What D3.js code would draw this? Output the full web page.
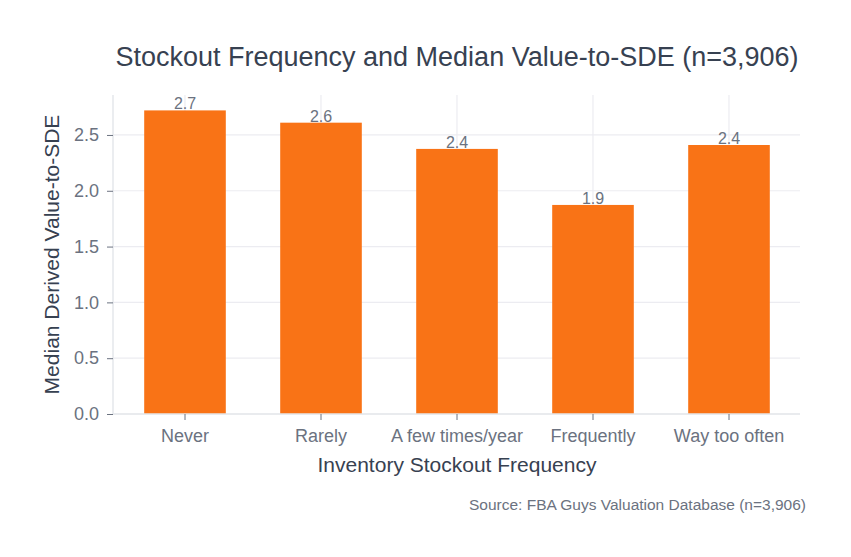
<!DOCTYPE html>
<html>
<head>
<meta charset="utf-8">
<script src="https://cdn.jsdelivr.net/npm/d3@7"></script>
<style>
  body { margin: 0; background: #fff; }
  text { font-family: "Liberation Sans", Arial, sans-serif; }
</style>
</head>
<body>
<div id="chart"></div>
<script>
var categories = ["Never", "Rarely", "A few times/year", "Frequently", "Way too often"];
var values = [2.72, 2.61, 2.375, 1.873, 2.41];
var valueLabels = ["2.7", "2.6", "2.4", "1.9", "2.4"];
var yTicks = [0, 0.5, 1.0, 1.5, 2.0, 2.5];

var width = 851,
  height = 557;

var plotLeft = 113, plotRight = 800, plotTop = 95, plotBottom = 414;

var svg = d3.select("#chart").append("svg")
  .attr("width", width)
  .attr("height", height);

var x = d3.scaleBand()
  .domain(categories)
  .range([117, 797])
  .paddingInner(0.4)
  .paddingOuter(0.2);

var y = d3.scaleLinear()
  .domain([0, 2.858])
  .range([plotBottom, plotTop]);

// grid
svg.append("g")
  .selectAll("line")
  .data(yTicks)
  .enter().append("line")
  .attr("x1", plotLeft).attr("x2", plotRight)
  .attr("y1", d => y(d)).attr("y2", d => y(d))
  .attr("stroke", "#ececf1")
  .attr("stroke-width", 1.2);

svg.append("g")
  .selectAll("line")
  .data(categories)
  .enter().append("line")
  .attr("x1", d => x(d) + x.bandwidth() / 2)
  .attr("x2", d => x(d) + x.bandwidth() / 2)
  .attr("y1", plotTop).attr("y2", plotBottom)
  .attr("stroke", "#ececf1")
  .attr("stroke-width", 1.2);

// bars
svg.append("g")
  .selectAll("rect")
  .data(values)
  .enter().append("rect")
  .attr("x", (d, i) => x(categories[i]))
  .attr("width", x.bandwidth())
  .attr("y", d => y(d))
  .attr("height", d => plotBottom - y(d))
  .attr("fill", "#f97316");

svg.append("g")
  .selectAll("text")
  .data(values)
  .enter().append("text")
  .attr("x", (d, i) => x(categories[i]) + x.bandwidth() / 2)
  .attr("y", d => y(d) - 1)
  .attr("text-anchor", "middle")
  .attr("font-size", 16)
  .attr("fill", "#6b7280")
  .text((d, i) => valueLabels[i]);

// axes
var yAxis = svg.append("g")
  .attr("transform", "translate(" + plotLeft + ",0)")
  .call(d3.axisLeft(y).tickValues(yTicks).tickFormat(d3.format(".1f")).tickSize(6).tickPadding(8));
yAxis.select(".domain").attr("stroke", "#e5e7eb").attr("stroke-width", 1.5).attr("d", "M0," + plotTop + "V" + plotBottom);
yAxis.selectAll(".tick line").attr("stroke", "#6b7280");
yAxis.selectAll(".tick text").attr("font-size", 18).attr("fill", "#6b7280").attr("font-family", null);

var xAxis = svg.append("g")
  .attr("transform", "translate(0," + plotBottom + ")")
  .call(d3.axisBottom(x).tickSize(6).tickPadding(9));
xAxis.select(".domain").attr("stroke", "#e5e7eb").attr("stroke-width", 1.5).attr("d", "M" + plotLeft + ",0H" + plotRight);
xAxis.selectAll(".tick line").attr("stroke", "#6b7280");
xAxis.selectAll(".tick text").attr("font-size", 18).attr("fill", "#6b7280").attr("font-family", null);

// titles
svg.append("text")
  .attr("x", 457).attr("y", 66)
  .attr("text-anchor", "middle")
  .attr("font-size", 27)
  .attr("fill", "#374151")
  .text("Stockout Frequency and Median Value-to-SDE (n=3,906)");

svg.append("text")
  .attr("x", 457).attr("y", 472)
  .attr("text-anchor", "middle")
  .attr("font-size", 21)
  .attr("fill", "#374151")
  .text("Inventory Stockout Frequency");

svg.append("text")
  .attr("transform", "translate(59," + ((plotTop + plotBottom) / 2) + ") rotate(-90)")
  .attr("text-anchor", "middle")
  .attr("font-size", 21)
  .attr("fill", "#374151")
  .text("Median Derived Value-to-SDE");

svg.append("text")
  .attr("x", 806).attr("y", 510)
  .attr("text-anchor", "end")
  .attr("font-size", 15.5)
  .attr("fill", "#6b7280")
  .text("Source: FBA Guys Valuation Database (n=3,906)");
</script>
</body>
</html>
